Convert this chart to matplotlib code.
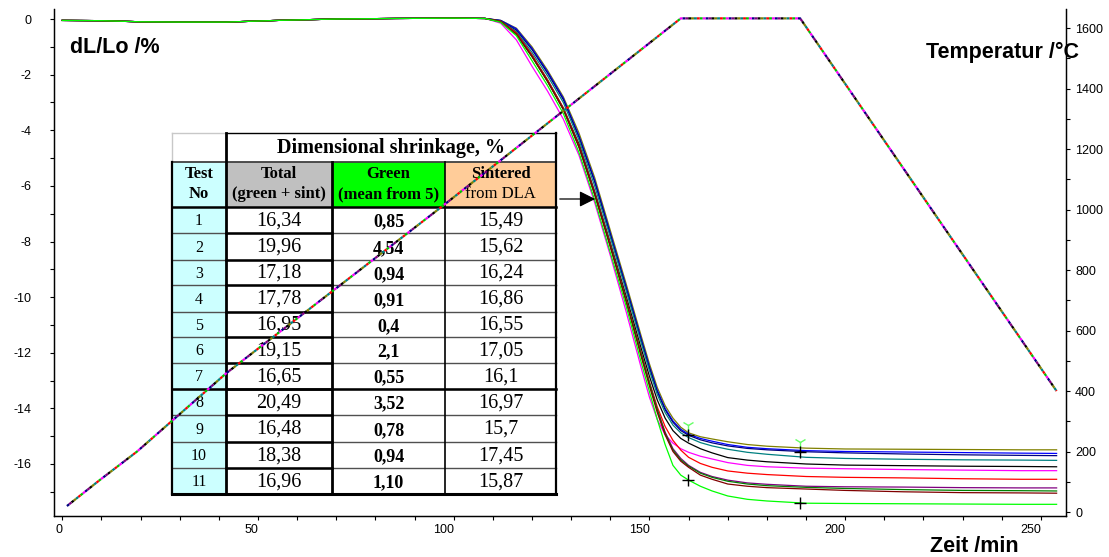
import matplotlib
matplotlib.use("Agg")
import matplotlib.pyplot as plt
from matplotlib.patches import Rectangle, FancyArrowPatch
from matplotlib.lines import Line2D
from matplotlib.ticker import MultipleLocator

plt.rcParams["axes.unicode_minus"] = False

# ---------------- data ----------------
# pre-sintering part of the dilatometer curves (common to all runs)
t_flat = [0, 10, 20, 30, 42, 55, 70, 85, 100, 108]
dl_flat = [-0.05, -0.06, -0.1, -0.11, -0.11, -0.05, 0.0, 0.02, 0.03, 0.02]

# sintering part, shared time grid
t_sint = [112, 116, 120, 124, 128, 132, 136, 140, 144, 148, 150, 152, 154,
          156, 158, 160, 163, 166, 170, 175, 180, 190, 200, 215, 230, 245, 254]

dl_test1 = [-0.05, -0.33, -1.0, -1.85, -2.8, -4.1, -5.7, -7.6, -9.5, -11.45, -12.4,
            -13.25, -13.9, -14.35, -14.68, -14.88, -15.02, -15.1, -15.2, -15.3,
            -15.36, -15.43, -15.46, -15.47, -15.48, -15.49, -15.49]
dl_test2 = [-0.05, -0.35, -1.05, -1.9, -2.85, -4.2, -5.8, -7.7, -9.6, -11.55, -12.5,
            -13.35, -14.0, -14.45, -14.75, -14.93, -15.08, -15.18, -15.3, -15.4,
            -15.45, -15.52, -15.55, -15.57, -15.59, -15.61, -15.62]
dl_test9 = [-0.06, -0.4, -1.1, -1.95, -2.9, -4.25, -5.85, -7.75, -9.65, -11.6, -12.55,
            -13.4, -14.05, -14.5, -14.8, -14.97, -15.13, -15.24, -15.35, -15.44,
            -15.49, -15.56, -15.6, -15.64, -15.67, -15.69, -15.7]
dl_test11 = [-0.07, -0.45, -1.2, -2.05, -3.0, -4.35, -6.0, -7.85, -9.75, -11.7, -12.65,
             -13.5, -14.15, -14.6, -14.88, -15.05, -15.23, -15.35, -15.47, -15.58,
             -15.65, -15.76, -15.8, -15.83, -15.85, -15.86, -15.87]
dl_test7 = [-0.08, -0.5, -1.3, -2.2, -3.2, -4.5, -6.2, -8.05, -9.95, -11.9, -12.85,
            -13.7, -14.35, -14.8, -15.08, -15.25, -15.45, -15.6, -15.77, -15.86,
            -15.92, -16.0, -16.04, -16.06, -16.08, -16.09, -16.1]
dl_test3 = [-0.15, -0.75, -1.7, -2.6, -3.6, -4.9, -6.6, -8.5, -10.5, -12.6, -13.6,
            -14.4, -14.95, -15.25, -15.45, -15.58, -15.72, -15.82, -15.95, -16.05,
            -16.1, -16.15, -16.17, -16.2, -16.22, -16.24, -16.24]
dl_test5 = [-0.08, -0.5, -1.3, -2.2, -3.2, -4.55, -6.25, -8.1, -10.05, -12.05, -13.05,
            -13.95, -14.65, -15.15, -15.5, -15.76, -15.98, -16.12, -16.25, -16.33,
            -16.38, -16.45, -16.48, -16.5, -16.53, -16.55, -16.55]
dl_test4 = [-0.1, -0.55, -1.35, -2.25, -3.25, -4.6, -6.3, -8.15, -10.1, -12.1, -13.1,
            -14.05, -14.85, -15.45, -15.8, -16.05, -16.3, -16.45, -16.58, -16.68,
            -16.73, -16.8, -16.82, -16.83, -16.85, -16.86, -16.86]
dl_test8 = [-0.1, -0.55, -1.35, -2.25, -3.25, -4.6, -6.3, -8.15, -10.1, -12.1, -13.1,
            -14.05, -14.9, -15.5, -15.85, -16.08, -16.33, -16.48, -16.62, -16.72,
            -16.78, -16.84, -16.88, -16.92, -16.95, -16.96, -16.97]
dl_test6 = [-0.1, -0.55, -1.35, -2.25, -3.25, -4.6, -6.3, -8.2, -10.15, -12.2, -13.2,
            -14.15, -14.95, -15.55, -15.9, -16.12, -16.4, -16.55, -16.72, -16.8,
            -16.85, -16.9, -16.95, -17.0, -17.03, -17.04, -17.05]
dl_test10 = [-0.12, -0.6, -1.5, -2.4, -3.4, -4.8, -6.5, -8.4, -10.3, -12.4, -13.4,
             -14.4, -15.3, -16.05, -16.4, -16.58, -16.8, -16.97, -17.15, -17.27,
             -17.33, -17.41, -17.42, -17.43, -17.44, -17.45, -17.45]

curves = [
    (dl_test1, "#808000"), (dl_test2, "#0000FF"), (dl_test9, "#000080"),
    (dl_test11, "#008080"), (dl_test7, "#000000"), (dl_test3, "#FF00FF"),
    (dl_test5, "#FF0000"), (dl_test4, "#800080"), (dl_test8, "#008000"),
    (dl_test6, "#800000"), (dl_test10, "#00FF00"),
]

# temperature programme
t_temp = [1.2, 9.6, 19.1, 42.0, 96.0, 158.0, 188.5, 254.0]
temp = [20, 106, 200, 460, 1000, 1632, 1632, 400]
temp_colors = ["#000080", "#FF00FF", "#00C000", "#FF0000", "#008080",
               "#808000", "#000000", "#800080"]

# cursor marks on the curves
cursor_t = [159.9, 159.9, 188.4, 188.4]
cursor_dl = [-14.96, -16.58, -15.56, -17.42]

# table contents
test_no = ["1", "2", "3", "4", "5", "6", "7", "8", "9", "10", "11"]
total = ["16,34", "19,96", "17,18", "17,78", "16,95", "19,15", "16,65",
         "20,49", "16,48", "18,38", "16,96"]
green = ["0,85", "4,54", "0,94", "0,91", "0,4", "2,1", "0,55",
         "3,52", "0,78", "0,94", "1,10"]
sintered = ["15,49", "15,62", "16,24", "16,86", "16,55", "17,05", "16,1",
            "16,97", "15,7", "17,45", "15,87"]

# ---------------- figure ----------------
W, H = 1109, 557
fig = plt.figure(figsize=(W / 100, H / 100), dpi=100)
ax1 = fig.add_axes([54 / W, 41 / H, (1066 - 54) / W, (516 - 9) / H])
ax2 = ax1.twinx()

SANS = "Liberation Sans"
SERIF = "Liberation Serif"

for dl, col in curves:
    ax1.plot(t_flat + t_sint, dl_flat + dl, color=col, lw=0.9, zorder=3)

ax1.plot(cursor_t, cursor_dl, ls="none", marker="+", ms=9, mew=1.0,
         color="black", zorder=5)
ax1.plot(cursor_t[0::2], [v + 0.35 for v in cursor_dl[0::2]], ls="none",
         marker="1", ms=9, mew=1.0, color="#66FF66", zorder=4)

for i, col in enumerate(temp_colors):
    ax2.plot(t_temp, temp, color=col, lw=1.6,
             linestyle=(i * 1.3, (1.3, 9.1)), zorder=3)

ax1.set_xlim(-2.1, 256.4)
ax1.set_ylim(-17.87, 0.36)
ax2.set_ylim(-13, 1663)

ax1.set_xticks(range(0, 251, 50))
ax1.xaxis.set_minor_locator(MultipleLocator(10))
ax1.set_yticks(range(-16, 1, 2))
ax1.yaxis.set_minor_locator(MultipleLocator(1))
ax2.set_yticks(range(0, 1601, 200))
ax2.yaxis.set_minor_locator(MultipleLocator(100))

for ax in (ax1, ax2):
    ax.spines["top"].set_visible(False)
    for s in ax.spines.values():
        s.set_linewidth(0.9)
    ax.tick_params(which="both", direction="out", length=3, width=0.8,
                   labelsize=9)
    for lab in ax.get_xticklabels() + ax.get_yticklabels():
        lab.set_fontfamily(SANS)

ax1.tick_params(axis="y", which="both", pad=13.5)
ax1.tick_params(axis="x", which="both", pad=2.5)
ax2.tick_params(axis="y", which="both", pad=3.6)
plt.setp(ax1.get_xticklabels(), ha="right")

# axis titles
fig.text(70 / W, 1 - 52.7 / H, "dL/Lo /%", fontsize=15.5, fontweight="bold",
         family=SANS, va="baseline", ha="left")
fig.text(926 / W, 1 - 58.3 / H, "Temperatur /°C", fontsize=15.5,
         fontweight="bold", family=SANS, va="baseline", ha="left")
fig.text(930 / W, 1 - 552.3 / H, "Zeit /min", fontsize=15.5,
         fontweight="bold", family=SANS, va="baseline", ha="left")

# ---------------- table ----------------
def fx(x):
    return x / W


def fy(y):
    return 1 - y / H


tf = fig.transFigure
col_x = [172, 226, 332, 445, 556]
row_y = [133, 162, 207, 233, 260, 285, 312, 337, 363, 389, 415, 442, 468, 494]


def cell(x0, y0, x1, y1, fc):
    ax1.add_patch(Rectangle((fx(x0), fy(y1)), fx(x1) - fx(x0), fy(y0) - fy(y1),
                            transform=tf, facecolor=fc, edgecolor="none",
                            zorder=6))


def hline(x0, x1, y, lw, col="black"):
    ax1.add_line(Line2D([fx(x0), fx(x1)], [fy(y), fy(y)], transform=tf,
                        color=col, lw=lw, zorder=7, solid_capstyle="projecting"))


def vline(x, y0, y1, lw, col="black"):
    ax1.add_line(Line2D([fx(x), fx(x)], [fy(y0), fy(y1)], transform=tf,
                        color=col, lw=lw, zorder=7, solid_capstyle="projecting"))


def ctext(x, y, s, size, weight="normal"):
    ax1.text(fx(x), fy(y), s, transform=tf, ha="center", va="center",
             fontsize=size, fontweight=weight, family=SERIF, zorder=8)


# backgrounds
cell(col_x[0], row_y[0], col_x[4], row_y[-1], "white")
cell(col_x[0], row_y[1], col_x[1], row_y[-1], "#CCFFFF")
cell(col_x[1], row_y[1], col_x[2], row_y[2], "#C0C0C0")
cell(col_x[2], row_y[1], col_x[3], row_y[2], "#00FF00")
cell(col_x[3], row_y[1], col_x[4], row_y[2], "#FFCC99")

# grid
hline(col_x[0], col_x[1], row_y[0], 1.0, "#C8C8C8")
vline(col_x[0], row_y[0], row_y[1], 1.0, "#C8C8C8")
hline(col_x[1], col_x[4], row_y[0], 1.0)
hline(col_x[0], col_x[4], row_y[1], 1.3, "#404040")
hline(col_x[0], col_x[4], row_y[2], 1.8)
for y in row_y[3:-1]:
    hline(col_x[0], col_x[4], y, 1.0, "#505050")
    hline(col_x[1], col_x[2], y, 1.8)
hline(col_x[0], col_x[4], row_y[9], 1.8)
hline(col_x[0], col_x[4], row_y[-1], 2.2)
vline(col_x[0], row_y[1], row_y[-1], 1.6)
vline(col_x[1], row_y[0], row_y[-1], 2.0)
vline(col_x[2], row_y[1], row_y[-1], 2.0)
vline(col_x[3], row_y[1], row_y[-1], 1.2)
vline(col_x[4], row_y[0], row_y[-1], 1.6)

# header text
ctext((col_x[1] + col_x[4]) / 2, (row_y[0] + row_y[1]) / 2 + 1,
      "Dimensional shrinkage, %", 14.5, "bold")
hy1 = row_y[1] + 12
hy2 = row_y[1] + 32
ctext((col_x[0] + col_x[1]) / 2, hy1, "Test", 12, "bold")
ctext((col_x[0] + col_x[1]) / 2, hy2, "No", 12, "bold")
ctext((col_x[1] + col_x[2]) / 2, hy1, "Total", 12, "bold")
ctext((col_x[1] + col_x[2]) / 2, hy2, "(green + sint)", 12, "bold")
ctext((col_x[2] + col_x[3]) / 2, hy1, "Green", 12, "bold")
ctext((col_x[2] + col_x[3]) / 2, hy2, "(mean from 5)", 12, "bold")
ctext((col_x[3] + col_x[4]) / 2, hy1, "Sintered", 12, "bold")
ctext((col_x[3] + col_x[4]) / 2, hy2, "from DLA", 12)

for i in range(len(test_no)):
    yc = (row_y[i + 2] + row_y[i + 3]) / 2 + 1
    ctext((col_x[0] + col_x[1]) / 2, yc, test_no[i], 11.5)
    ctext((col_x[1] + col_x[2]) / 2, yc, total[i], 14.5)
    ctext((col_x[2] + col_x[3]) / 2, yc + 1, green[i], 13, "bold")
    ctext((col_x[3] + col_x[4]) / 2, yc, sintered[i], 14.5)

# arrow from the "Sintered" header to the curves
arr = FancyArrowPatch((fx(557), fy(199)), (fx(598), fy(199)), transform=tf,
                      arrowstyle="-|>,head_length=6,head_width=3",
                      mutation_scale=1.6, color="black", lw=0.9, zorder=9)
ax1.add_patch(arr)

fig.savefig("out.png", dpi=100, facecolor="white")
